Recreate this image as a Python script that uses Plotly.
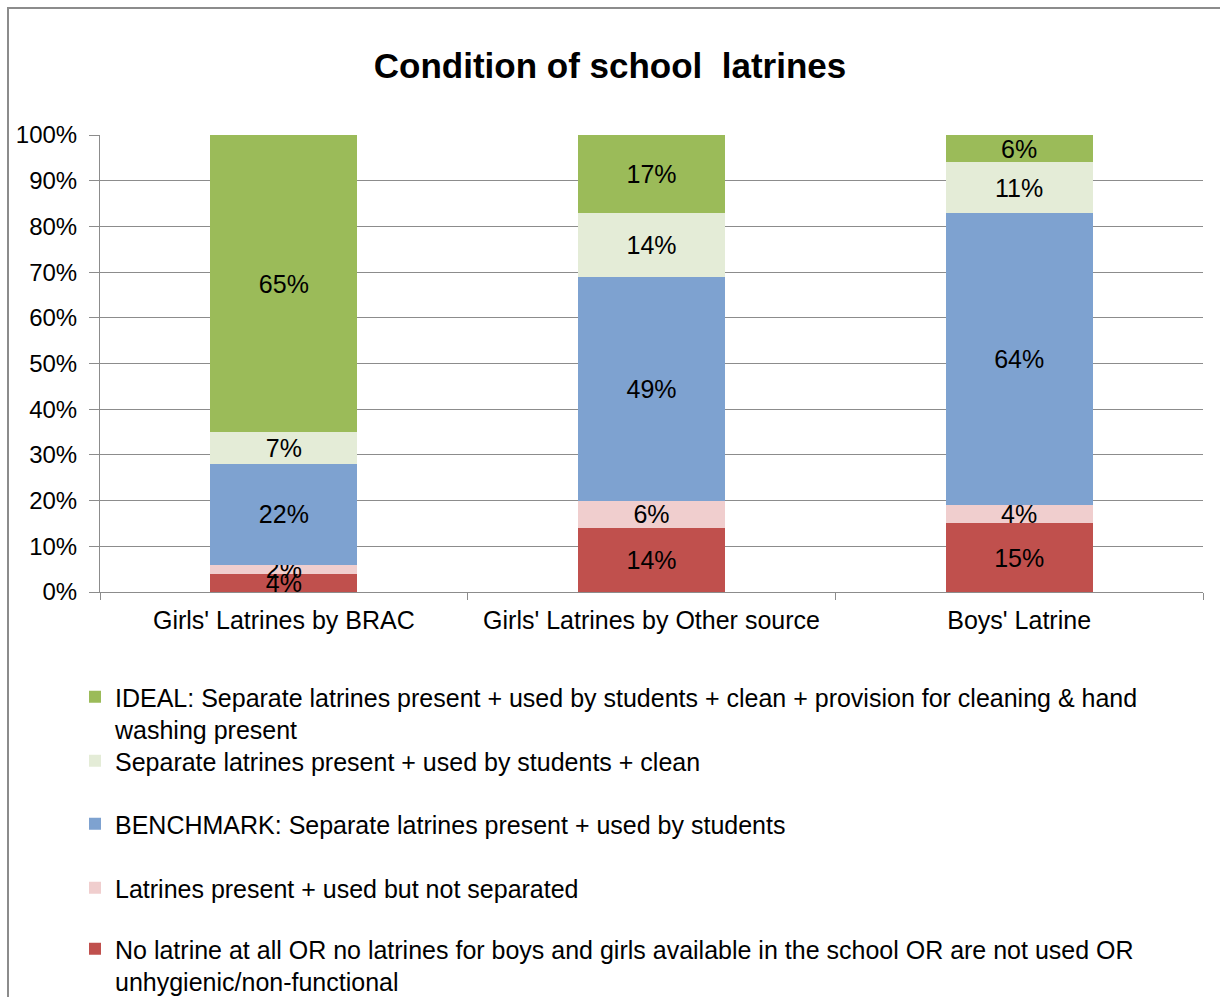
import plotly.graph_objects as go

categories = ["Girls' Latrines by BRAC", "Girls' Latrines by Other source", "Boys' Latrine"]

series_names = [
    "No latrine at all OR no latrines for boys and girls available in the school OR are not used OR<br>unhygienic/non-functional",
    "Latrines present + used but not separated",
    "BENCHMARK: Separate latrines present + used by students",
    "Separate latrines present + used by students + clean",
    "IDEAL: Separate latrines present + used by students + clean + provision for cleaning & hand<br>washing present",
]
no_latrine = [4, 14, 15]
not_separated = [2, 6, 4]
benchmark = [22, 49, 64]
clean = [7, 14, 11]
ideal = [65, 17, 6]
series_values = [no_latrine, not_separated, benchmark, clean, ideal]
series_colors = ["#C0504D", "#F0CECE", "#7EA2D0", "#E4ECD7", "#9BBB59"]
legend_ids = ["legend5", "legend4", "legend3", "legend2", "legend"]
legend_tops = [926, 865, 801, 738, 674]

y_ticks = [0, 10, 20, 30, 40, 50, 60, 70, 80, 90, 100]
y_tick_labels = [f"{v}%" for v in y_ticks]

FONT = "Liberation Sans, Arial, sans-serif"
W, H = 1220, 997

fig = go.Figure()
for name, vals, color, lid in zip(series_names, series_values, series_colors, legend_ids):
    fig.add_trace(go.Bar(
        x=categories, y=vals, name=name, legend=lid,
        marker=dict(color=color, line=dict(width=0)),
        text=[f"{v}%" for v in vals],
        textposition="inside", insidetextanchor="middle", textangle=0,
        textfont=dict(family=FONT, size=25, color="#000000"),
        hoverinfo="skip",
    ))

# faint gridlines over bars (like original)
for v in y_ticks[1:]:
    fig.add_hline(y=v, layer="above", line=dict(color="rgba(0,0,0,0.10)", width=1))

legend_layouts = {}
for lid, top in zip(legend_ids, legend_tops):
    legend_layouts[lid] = dict(
        x=75 / W, y=1 - top / H, xref="container", yref="container",
        xanchor="left", yanchor="top",
        font=dict(family=FONT, size=25, color="#000000"),
        bgcolor="rgba(0,0,0,0)", valign="top", itemwidth=30,
    )

fig.update_layout(
    width=W, height=H,
    paper_bgcolor="white", plot_bgcolor="white",
    barmode="stack", bargap=0.6,
    uniformtext=dict(minsize=25, mode="show"),
    margin=dict(l=100, r=17, t=135, b=405, autoexpand=False),
    title=dict(text="Condition of school\u00a0\u00a0latrines", x=0.5, xref="container", xanchor="center",
               y=1 - 66 / H, yref="container", yanchor="middle",
               font=dict(family=FONT, size=35, color="#000000", weight="bold")),
    showlegend=True,
    **legend_layouts,
    xaxis=dict(
        showline=True, linecolor="#8C8C8C", linewidth=1,
        ticks="outside", tickson="boundaries", ticklen=7, tickcolor="#8C8C8C",
        tickfont=dict(family=FONT, size=25, color="#000000"),
        showgrid=False, ticklabelstandoff=6, tickangle=0,
    ),
    yaxis=dict(
        range=[0, 100], tickvals=y_ticks, ticktext=y_tick_labels,
        showline=True, linecolor="#8C8C8C", linewidth=1,
        ticks="outside", ticklen=10, tickcolor="#8C8C8C",
        showgrid=True, gridcolor="#8C8C8C", gridwidth=1,
        tickfont=dict(family=FONT, size=24, color="#000000"),
        ticklabelstandoff=7,
        zeroline=False,
    ),
    shapes=[dict(type="rect", xref="paper", yref="paper",
                 x0=(8 - 100) / 1103, x1=(1240 - 100) / 1103,
                 y0=(592 - 1020) / 457, y1=(592 - 8) / 457,
                 line=dict(color="#8C8C8C", width=2), fillcolor="rgba(0,0,0,0)", layer="below")],
)

fig.write_html("out.html")
